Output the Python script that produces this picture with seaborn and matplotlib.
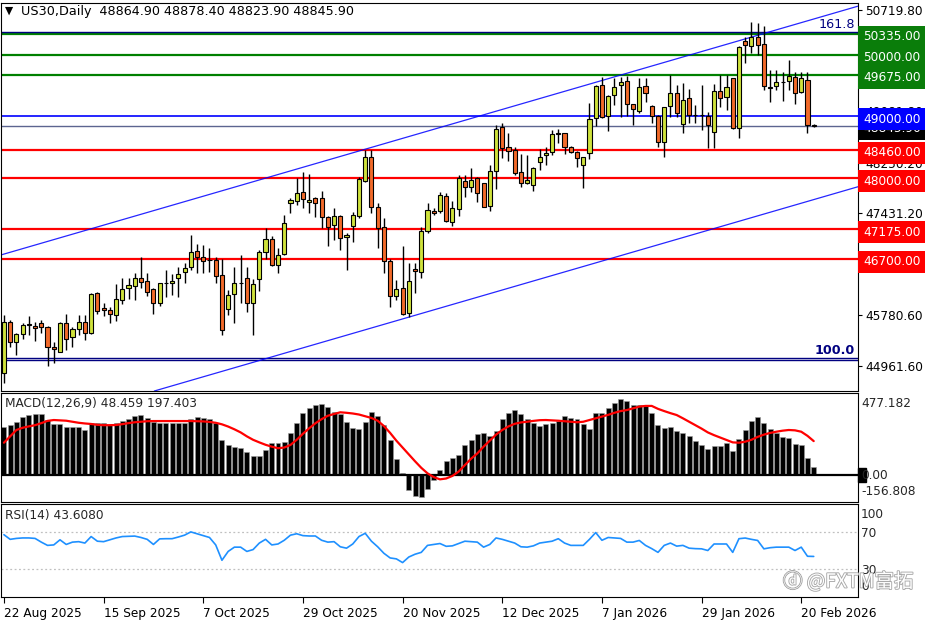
import numpy as np
import pandas as pd
import matplotlib
matplotlib.use('Agg')
import matplotlib.pyplot as plt
import matplotlib.transforms as mtransforms
import matplotlib.patheffects as pe
import seaborn as sns

# US30 daily candles (bar 0 = 22 Aug 2025)
opens = [44845, 45680, 45346, 45481, 45640, 45610, 45654, 45589, 45275, 45194,
         45654, 45427, 45557, 45680, 45502, 46138, 45896, 45870, 45788, 46030,
         46219, 46257, 46392, 46343, 46203, 45977, 46310, 46300, 46381, 46478,
         46559, 46828, 46721, 46677, 46677, 46435, 45880, 46122, 46310, 46381,
         45987, 46370, 46812, 47012, 46596, 46774, 47594, 47636, 47772, 47615,
         47675, 47675, 47379, 47243, 47389, 47044, 47227, 47389, 47960, 48338,
         47529, 47217, 46666, 46095, 46219, 45815, 46532, 46477, 47144, 47475,
         47475, 47712, 47297, 47497, 47955, 47863, 48000, 47917, 47555, 48116,
         48833, 48499, 48456, 48106, 47917, 47890, 48267, 48375, 48429, 48737,
         48726, 48499, 48429, 48213, 48403, 48968, 49507, 49006, 49345, 49507,
         49572, 49195, 49091, 49491, 49168, 49006, 48590, 49168, 49373, 48872,
         49292, 49022, 49030, 49006, 48752, 49410, 49318, 49615, 48807, 50218,
         50138, 50278, 50165, 49470, 49491, 49560, 49572, 49631, 49399, 49588,
         48864.9]
highs = [45788, 45707, 45491, 45663, 45777, 45680, 45707, 45610, 45346, 45670,
         45804, 45589, 45788, 45788, 46148, 46165, 45977, 45922, 46289, 46381,
         46381, 46462, 46731, 46472, 46219, 46310, 46516, 46450, 46570, 46623,
         47083, 46930, 46919, 46866, 46731, 46689, 46192, 46571, 46760, 46559,
         46365, 46839, 47190, 47065, 46866, 47405, 47675, 48000, 48105, 48068,
         47691, 47798, 47389, 47513, 47405, 47110, 47459, 48014, 48456, 48456,
         47594, 47351, 46688, 46354, 46904, 46624, 46624, 47209, 47605, 47513,
         47782, 47756, 47637, 48052, 48052, 48160, 48016, 47927, 48213, 48859,
         48897, 48725, 48510, 48391, 48375, 48187, 48467, 48499, 48780, 48791,
         48737, 48521, 48440, 48348, 49211, 49507, 49641, 49345, 49615, 49641,
         49653, 49200, 49615, 49615, 49184, 49022, 49157, 49669, 49507, 49534,
         49437, 49184, 49507, 49076, 49524, 49669, 49669, 49620, 50138, 50288,
         50531, 50505, 50461, 49751, 49751, 49724, 49912, 49722, 49722, 49722,
         48878.4]
lows = [44683, 45275, 45141, 45395, 45465, 45372, 45492, 44963, 45007, 45185,
        45222, 45275, 45465, 45384, 45481, 45804, 45777, 45663, 45697, 45961,
        46041, 46030, 46219, 46100, 45804, 45938, 46085, 46111, 46085, 46300,
        46515, 46462, 46472, 46488, 46310, 45465, 45788, 45654, 45977, 45843,
        45465, 46181, 46689, 46580, 46472, 46758, 47432, 47567, 47513, 47432,
        47379, 47190, 46904, 46999, 46839, 46516, 46974, 47352, 47943, 47443,
        46878, 46462, 45920, 46030, 45788, 45760, 46139, 46381, 47116, 47405,
        47432, 47297, 47233, 47393, 47701, 47782, 47621, 47529, 47475, 47821,
        48322, 48283, 48052, 47863, 47906, 47793, 48133, 48213, 48375, 48564,
        48386, 48402, 48187, 47837, 48305, 48844, 48968, 48768, 49185, 48995,
        49006, 48860, 49059, 49237, 48897, 48499, 48348, 48995, 48985, 48725,
        48888, 48888, 48780, 48483, 48483, 49157, 49103, 48797, 48645, 49858,
        50019, 49994, 49428, 49237, 49427, 49255, 49427, 49200, 49373, 48736,
        48823.9]
closes = [45680, 45346, 45481, 45626, 45620, 45573, 45599, 45275, 45238, 45654,
          45400, 45557, 45680, 45502, 46127, 45857, 45870, 45804, 46041, 46203,
          46273, 46381, 46327, 46165, 45977, 46300, 46305, 46338, 46446, 46553,
          46802, 46721, 46666, 46670, 46418, 45545, 46111, 46310, 46305, 45977,
          46284, 46812, 47012, 46596, 46758, 47271, 47647, 47756, 47659, 47647,
          47594, 47368, 47217, 47393, 47028, 47082, 47405, 47987, 48338, 47529,
          47200, 46666, 46095, 46208, 45799, 46338, 46499, 47144, 47486, 47443,
          47728, 47313, 47513, 48000, 47863, 47971, 47766, 47539, 48116, 48791,
          48483, 48445, 48079, 47927, 47971, 48160, 48348, 48413, 48710, 48710,
          48499, 48429, 48322, 48338, 48957, 49491, 48985, 49329, 49480, 49551,
          49200, 49114, 49470, 49373, 49006, 48590, 49146, 49383, 49049, 49264,
          49022, 49030, 49020, 48862, 49410, 49292, 49480, 48807, 50126, 50154,
          50278, 50154, 49496, 49460, 49551, 49555, 49653, 49373, 49625, 48865,
          48845.9]

macd_main = [278, 291, 310, 336, 349, 355, 355, 320, 299, 299,
             281, 278, 278, 262, 301, 301, 301, 291, 301, 314,
             324, 345, 349, 330, 310, 304, 304, 301, 301, 301,
             324, 336, 332, 324, 304, 204, 175, 161, 155, 136,
             111, 111, 146, 184, 184, 194, 243, 301, 359, 388,
             407, 413, 398, 365, 355, 310, 272, 268, 310, 365,
             343, 293, 204, 91, 10, -87, -122, -130, -83, -29,
             29, 83, 97, 116, 175, 204, 239, 243, 227, 256,
             326, 359, 378, 355, 324, 301, 287, 297, 301, 316,
             343, 330, 324, 295, 268, 359, 363, 388, 417, 440,
             431, 407, 407, 407, 359, 291, 275, 281, 258, 246,
             227, 200, 175, 151, 169, 169, 184, 142, 208, 262,
             314, 336, 301, 266, 246, 223, 213, 179, 175, 97,
             48.459]
macd_signal = [188, 225, 262, 275, 283, 290, 302, 315, 320, 318,
               316, 310, 304, 300, 297, 292, 290, 290, 291, 296,
               302, 307, 310, 313, 314, 314, 314, 314, 314, 314,
               314, 313, 312, 309, 304, 295, 282, 266, 248, 225,
               205, 190, 176, 165, 156, 160, 175, 205, 240, 272,
               301, 325, 345, 355, 365, 362, 358, 352, 342, 332,
               316, 285, 245, 200, 160, 120, 80, 42, 10, -12,
               -25, -20, -5, 20, 58, 95, 126, 165, 200, 235,
               262, 283, 298, 306, 310, 315, 319, 320, 318, 316,
               313, 310, 307, 310, 320, 330, 340, 350, 362, 372,
               378, 388, 398, 402, 402, 385, 372, 360, 349, 330,
               310, 290, 270, 248, 232, 218, 204, 190, 188, 194,
               205, 222, 235, 245, 252, 258, 262, 260, 252, 228,
               197.403]
rsi = [67, 62, 63, 63.5, 63.5, 63, 59, 55.5, 56, 61.5,
       56.5, 59, 59.5, 58, 65, 60, 59.5, 61.5, 63.5, 65,
       65.3, 65.5, 64, 62, 56.5, 62.5, 62.7, 62.7, 64.5, 66.5,
       70, 68, 66, 64, 56, 39.5, 49, 53.6, 53.6, 49,
       51, 58, 62, 56, 57, 61, 66.5, 68, 66, 65.6,
       65.6, 61, 59, 59.5, 54, 52.5, 57, 65, 68.5, 60,
       54, 47, 42, 41, 37, 43, 46, 48, 55.5, 56.5,
       57.5, 54.5, 55, 57.5, 60, 59.5, 59, 53.6, 56.5, 63.5,
       62, 60, 58, 54, 53.6, 55, 58, 59, 60, 62.7,
       58, 55.5, 55.5, 55.5, 62, 69.3, 61, 64, 63.5, 63,
       59, 59, 60.8, 55.5, 52, 48, 55.5, 58, 54.7, 55.5,
       52.5, 52, 51.8, 50, 57, 57, 57, 48, 62.7, 63.4,
       62, 60.8, 51.8, 53, 53.6, 53.6, 53.6, 50, 53.6, 43.8,
       43.608]

date_labels = ['22 Aug 2025', '15 Sep 2025', '7 Oct 2025', '29 Oct 2025', '20 Nov 2025',
               '12 Dec 2025', '7 Jan 2026', '29 Jan 2026', '20 Feb 2026']
date_bars = [0, 16, 32, 48, 64, 80, 96, 112, 128]

green_levels = [50335.0, 50000.0, 49675.0]
red_levels = [48460.0, 48000.0, 47175.0, 46700.0]
blue_level = 49000.0
fibo_1618 = 50372.0
fibo_100 = [45100.0, 45068.0]
channel_upper = [(0, 46773.0), (130, 50574.0)]
channel_lower = [(0, 43853.0), (130, 47654.0)]
price_ticks = [50719.80, 49081.80, 48250.20, 47431.20, 45780.60, 44961.60]

df = pd.DataFrame({'bar': np.arange(len(closes)), 'open': opens, 'high': highs,
                   'low': lows, 'close': closes, 'macd': macd_main,
                   'signal': macd_signal, 'rsi': rsi})

sns.set_theme(style='white', rc={'axes.edgecolor': 'black', 'axes.linewidth': 0.8})
plt.rcParams['font.family'] = ['DejaVu Sans']
FS = 8.7

W, H = 936, 624
fig = plt.figure(figsize=(W / 100, H / 100), dpi=100)
ax = fig.add_axes([0.001, 1 - 391 / H, 857 / W, 388 / H])
ax2 = fig.add_axes([0.001, 1 - 502 / H, 857 / W, 109 / H])
ax3 = fig.add_axes([0.001, 1 - 597 / H, 857 / W, 93 / H])
xlim = (-0.48, 137.1)

# ---- main price panel
bull = df['close'] >= df['open']
ax.vlines(df['bar'], df['low'], df['high'], color='black', lw=1, zorder=3)
body_h = (df['close'] - df['open']).abs().clip(lower=4)
ax.bar(df['bar'], body_h, bottom=df[['open', 'close']].min(axis=1), width=0.66,
       color=np.where(bull, '#cfe23c', '#f26a2a'), edgecolor='black', linewidth=0.8, zorder=4)

for lv in green_levels:
    ax.axhline(lv, color='#008000', lw=1.6, zorder=2)
for lv in red_levels:
    ax.axhline(lv, color='#ff0000', lw=1.6, zorder=2)
ax.axhline(blue_level, color='#0000ff', lw=1.2, zorder=2)
ax.axhline(closes[-1], color='#5c6590', lw=1, zorder=2)
ax.axhline(fibo_1618, color='#000080', lw=1, zorder=2)
for lv in fibo_100:
    ax.axhline(lv, color='#000080', lw=1, zorder=2)
ax.axline(*channel_upper, color='#0000ff', lw=0.9, alpha=0.85, zorder=2)
ax.axline(*channel_lower, color='#0000ff', lw=0.9, alpha=0.85, zorder=2)

ax.set_xlim(xlim)
ax.set_ylim(44559, 50833)
ax.yaxis.tick_right()
ax.set_yticks(price_ticks)
ax.set_yticklabels([f'{v:.2f}' for v in price_ticks])
ax.tick_params(axis='y', direction='out', length=3, width=0.8, pad=2, labelsize=FS, colors='black', right=True)
ax.set_xticks([])

def box_label(axis, value, text, fc, z=6):
    tr = mtransforms.offset_copy(axis.get_yaxis_transform(), fig=fig, x=5, y=-3, units='dots')
    axis.text(1.0, value, text, transform=tr, ha='left', va='center', color='white', fontsize=FS,
              clip_on=False, zorder=z,
              bbox=dict(boxstyle='square,pad=0.38', fc=fc, ec='none'))

for lv in green_levels:
    box_label(ax, lv, f'{lv:.2f}', '#0a7d0a')
for lv in red_levels:
    box_label(ax, lv, f'{lv:.2f}', '#ff0000')
box_label(ax, closes[-1], f'{closes[-1]:.2f}', 'black', z=5)
box_label(ax, blue_level, f'{blue_level:.2f}', '#0000ff', z=7)

tr_f = mtransforms.offset_copy(ax.get_yaxis_transform(), fig=fig, x=-3, y=1, units='dots')
ax.text(1.0, fibo_1618, '161.8', transform=tr_f, ha='right', va='bottom', color='#000080', fontsize=FS + 0.5)
ax.text(1.0, fibo_100[0], '100.0', transform=tr_f, ha='right', va='bottom', color='#000080',
        fontsize=FS + 0.5, fontweight='bold')

fig.text(5 / W, 1 - 11 / H, '\u25bc', fontsize=FS - 1, va='center', ha='left', color='black')
fig.text(21 / W, 1 - 11 / H, 'US30,Daily  48864.90 48878.40 48823.90 48845.90',
         fontsize=FS + 0.5, va='center', ha='left', color='black')

# ---- MACD panel
ax2.bar(df['bar'], df['macd'], width=0.8, color='black', edgecolor='#9a9a9a', linewidth=0.4, zorder=2)
sns.lineplot(data=df, x='bar', y='signal', ax=ax2, color='#ff0000', lw=1.6, zorder=3)
ax2.axhline(0, color='black', lw=1.6, zorder=2)
ax2.set_xlim(xlim)
ax2.set_ylim(-156.808, 477.182)
ax2.set_xticks([])
ax2.set_yticks([])
ax2.set_xlabel('')
ax2.set_ylabel('')
tr2 = mtransforms.offset_copy(ax2.get_yaxis_transform(), fig=fig, x=3, y=0, units='dots')
ax2.text(1.0, 477.182, '477.182', transform=mtransforms.offset_copy(tr2, fig=fig, y=-4, units='dots'),
         ha='left', va='top', fontsize=FS, clip_on=False)
ax2.add_patch(plt.Rectangle((1.0, -40), 8 / 857, 80, transform=ax2.get_yaxis_transform(),
                            color='black', clip_on=False, zorder=1))
ax2.text(1.0, 0, '0.00', transform=tr2, ha='left', va='center', fontsize=FS, clip_on=False)
ax2.text(1.0, -156.808, '-156.808', transform=mtransforms.offset_copy(tr2, fig=fig, y=4, units='dots'),
         ha='left', va='bottom', fontsize=FS, clip_on=False)
fig.text(5 / W, 1 - 404 / H, 'MACD(12,26,9) 48.459 197.403', fontsize=FS, va='center', ha='left')

# ---- RSI panel
sns.lineplot(data=df, x='bar', y='rsi', ax=ax3, color='#1e90ff', lw=1.2, zorder=3)
for lv in (70, 30):
    ax3.axhline(lv, color='#c0c0c0', lw=0.9, ls=(0, (1.5, 2)), zorder=1)
ax3.set_xlim(xlim)
ax3.set_ylim(0, 100)
ax3.set_yticks([])
ax3.set_ylabel('')
ax3.set_xlabel('')
ax3.set_xticks(date_bars)
ax3.set_xticklabels(date_labels, ha='left')
ax3.tick_params(axis='x', direction='out', length=4, width=0.8, pad=3, labelsize=FS, colors='black', bottom=True)
tr3 = mtransforms.offset_copy(ax3.get_yaxis_transform(), fig=fig, x=3, y=0, units='dots')
ax3.text(1.0, 100, '100', transform=mtransforms.offset_copy(tr3, fig=fig, y=-4, units='dots'),
         ha='left', va='top', fontsize=FS, clip_on=False)
ax3.text(1.0, 70, '70', transform=mtransforms.offset_copy(tr3, fig=fig, y=-2, units='dots'),
         ha='left', va='center', fontsize=FS, clip_on=False)
ax3.text(1.0, 30, '30', transform=mtransforms.offset_copy(tr3, fig=fig, y=-1, units='dots'),
         ha='left', va='center', fontsize=FS, clip_on=False)
ax3.text(1.0, 0, '0', transform=mtransforms.offset_copy(tr3, fig=fig, y=4, units='dots'),
         ha='left', va='bottom', fontsize=FS, clip_on=False)
fig.text(5 / W, 1 - 516 / H, 'RSI(14) 43.6080', fontsize=FS, va='center', ha='left')

wm = fig.text(783 / W, 1 - 582 / H, '\u24d3 @FXTM富拓', fontsize=14, va='center', ha='left',
              color='white', family=['Noto Sans CJK SC', 'DejaVu Sans'], zorder=10)
wm.set_path_effects([pe.withStroke(linewidth=1.3, foreground='#a8a8a8')])

for a in (ax, ax2, ax3):
    for s in a.spines.values():
        s.set_color('black')
        s.set_linewidth(0.8)

fig.savefig('out.png', dpi=100)
